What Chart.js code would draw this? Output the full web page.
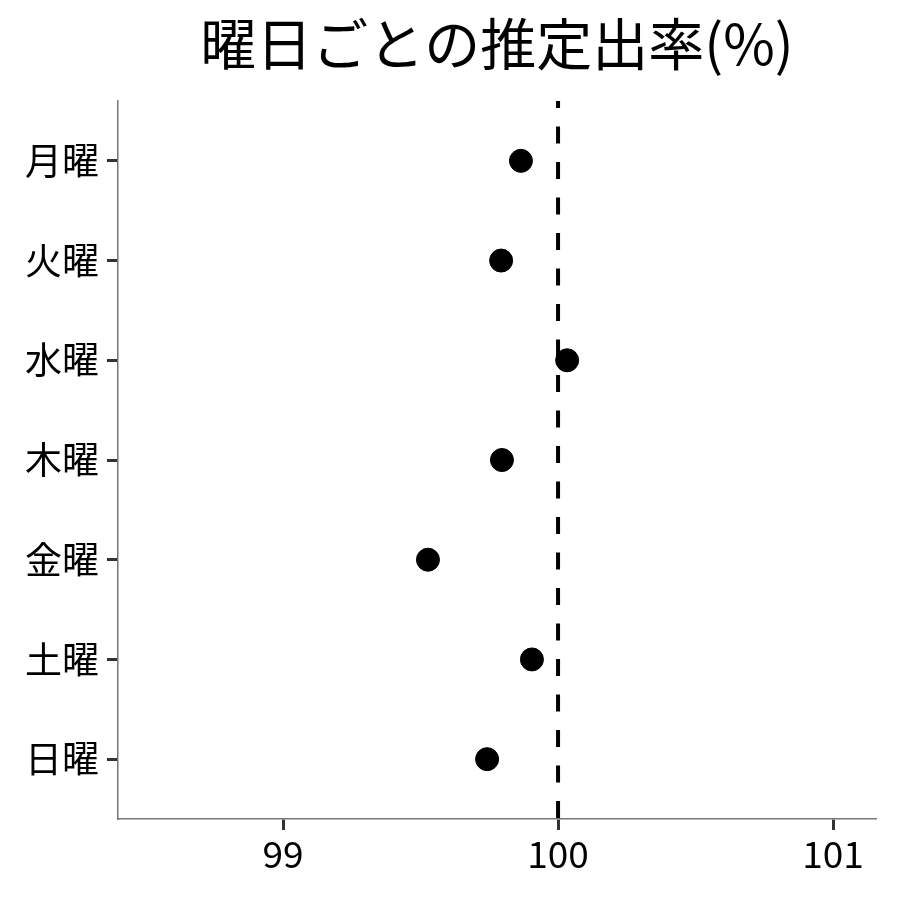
<!DOCTYPE html>
<html>
<head>
<meta charset="utf-8">
<script src="https://cdn.jsdelivr.net/npm/chart.js@4"></script>
<style>
  html, body { margin: 0; padding: 0; background: #fff; }
  #wrap { width: 900px; height: 900px; }
</style>
</head>
<body>
<div id="wrap"><canvas id="chart" width="900" height="900"></canvas></div>
<script>
// 曜日ごとの推定値
const days = ['月曜', '火曜', '水曜', '木曜', '金曜', '土曜', '日曜'];
const estimates = [99.865, 99.793, 100.033, 99.796, 99.527, 99.905, 99.742];
const xTicks = [99, 100, 101];
const refValue = 100;
const titleText = '曜日ごとの推定出率(%)';

const FONT = '"Noto Sans CJK JP", "Noto Sans", sans-serif';

// タイトルはパネルの中央に描く
const titlePlugin = {
    id: 'panelTitle',
    afterDraw(chart) {
        const ctx = chart.ctx;
        const area = chart.chartArea;
        ctx.save();
        ctx.font = '56px ' + FONT;
        ctx.fillStyle = '#000';
        ctx.textAlign = 'center';
        ctx.textBaseline = 'middle';
        ctx.fillText(titleText, (area.left + area.right) / 2, 44);
        ctx.restore();
    }
};

const ctx = document.getElementById('chart').getContext('2d');
new Chart(ctx, {
    type: 'scatter',
    data: {
        datasets: [
            {
                // 基準線 (100%)
                type: 'line',
                data: [{ x: refValue, y: -0.6 }, { x: refValue, y: 6.6 }],
                borderColor: '#000',
                borderWidth: 4,
                borderDash: [17, 18.5],
                borderDashOffset: 10,
                pointRadius: 0,
                fill: false,
            },
            {
                data: estimates.map((v, i) => ({ x: v, y: i })),
                backgroundColor: '#000',
                borderColor: '#000',
                pointRadius: 11.5,
                pointHoverRadius: 11.5,
            }
        ]
    },
    options: {
        responsive: false,
        animation: false,
        layout: { padding: { top: 101, right: 24, left: 0, bottom: 0 } },
        plugins: {
            legend: { display: false },
            tooltip: { enabled: false },
            title: { display: false }
        },
        scales: {
            x: {
                type: 'linear',
                min: 98.4,
                max: 101.156,
                afterBuildTicks: axis => { axis.ticks = xTicks.map(v => ({ value: v })); },
                afterFit: axis => { axis.height = 81; },
                grid: {
                    drawOnChartArea: false,
                    tickLength: 11,
                    tickWidth: 3,
                    tickColor: '#333',
                },
                border: { color: '#777', width: 1.5 },
                ticks: {
                    color: '#000',
                    padding: 2,
                    font: { family: FONT, size: 37 },
                    callback: v => String(v),
                }
            },
            y: {
                type: 'linear',
                reverse: true,
                min: -0.6,
                max: 6.6,
                afterBuildTicks: axis => { axis.ticks = days.map((d, i) => ({ value: i })); },
                afterFit: axis => { axis.width = 118; },
                grid: {
                    drawOnChartArea: false,
                    tickLength: 11,
                    tickWidth: 3,
                    tickColor: '#333',
                },
                border: { color: '#777', width: 1.5 },
                ticks: {
                    color: '#000',
                    padding: 8,
                    autoSkip: false,
                    font: { family: FONT, size: 37 },
                    callback: v => days[v] || '',
                }
            }
        }
    },
    plugins: [titlePlugin]
});
</script>
</body>
</html>
